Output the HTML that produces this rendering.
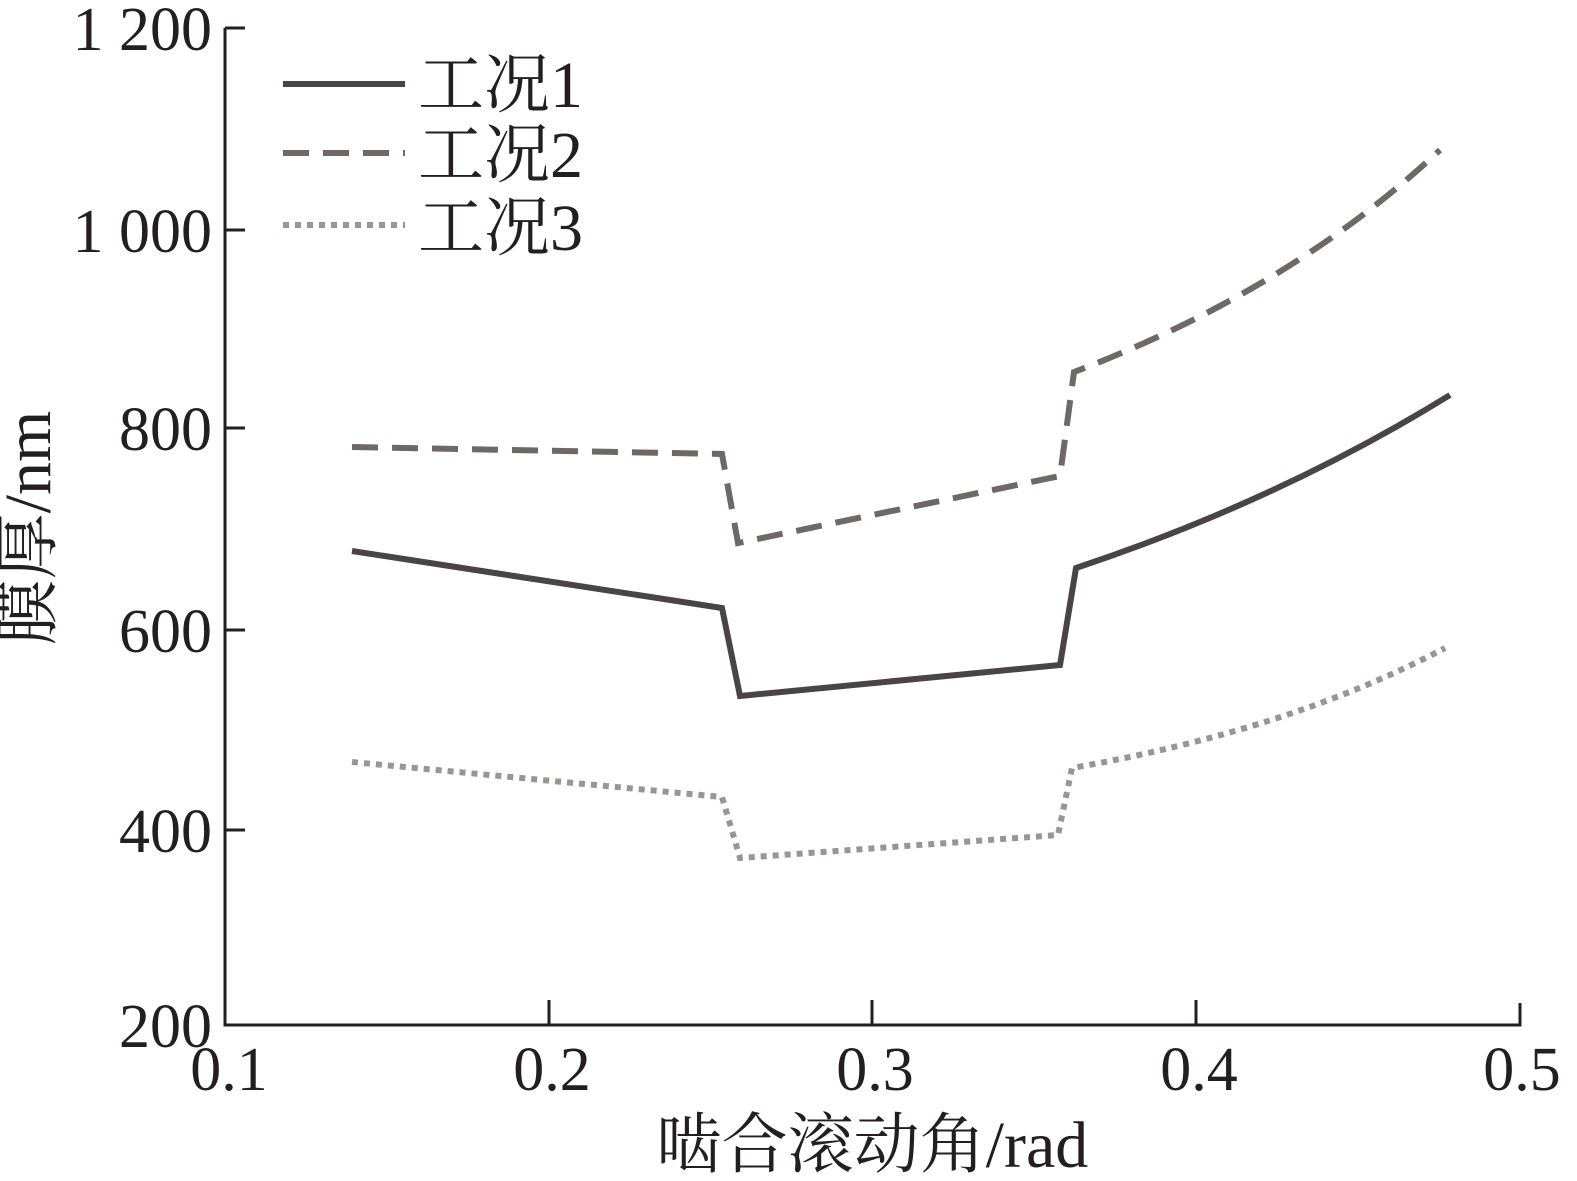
<!DOCTYPE html>
<html><head><meta charset="utf-8"><style>
html,body{margin:0;padding:0;background:#fff;}
svg{display:block;}
text{font-family:"Liberation Serif","Noto Serif CJK SC",serif;fill:#231f20;}
</style></head><body>
<svg width="1577" height="1181" viewBox="0 0 1577 1181" xmlns="http://www.w3.org/2000/svg">
<g stroke="#231f20" stroke-width="3" fill="none">
<path d="M225,28 V1025 H1520 V1003"/>
<path d="M225,28 H245 M225,230 H245 M225,428 H245 M225,630 H245 M225,830 H245"/>
<path d="M549,1025 V1000 M872,1025 V1000 M1196,1025 V1000"/>
</g>
<g font-size="62" text-anchor="end">
<text x="212" y="50">1 200</text>
<text x="212" y="252">1 000</text>
<text x="212" y="450">800</text>
<text x="212" y="652">600</text>
<text x="212" y="852">400</text>
<text x="212" y="1047">200</text>
</g>
<g font-size="62" text-anchor="middle">
<text x="229" y="1090">0.1</text>
<text x="552" y="1090">0.2</text>
<text x="875" y="1090">0.3</text>
<text x="1199" y="1090">0.4</text>
<text x="1522" y="1090">0.5</text>
</g>
<text x="872" y="1167" font-size="66" text-anchor="middle">啮合滚动角/rad</text>
<text transform="translate(50,528) rotate(-90)" font-size="66" text-anchor="middle">膜厚/nm</text>
<g fill="none" stroke-width="6">
<path d="M352,551 L722,608 L740,696 L1060,665 L1076,568 Q1280,500 1450,395" stroke="#4a4446"/>
<path d="M352,447 L722,454 L738,543 L1060,476 L1074,372 Q1290,290 1440,150" stroke="#6f6869" stroke-dasharray="26,14"/>
<path d="M352,762 L722,797 L740,858 L1058,835 L1072,768 Q1290,730 1445,648" stroke="#9a9495" stroke-dasharray="6,6"/>
<path d="M283,84 H405" stroke="#4a4446"/>
<path d="M283,153 H405" stroke="#6f6869" stroke-dasharray="26,14"/>
<path d="M283,225 H405" stroke="#9a9495" stroke-dasharray="6,6"/>
</g>
<g font-size="66">
<text x="418" y="107">工况1</text>
<text x="418" y="177">工况2</text>
<text x="418" y="250">工况3</text>
</g>
</svg>
</body></html>
